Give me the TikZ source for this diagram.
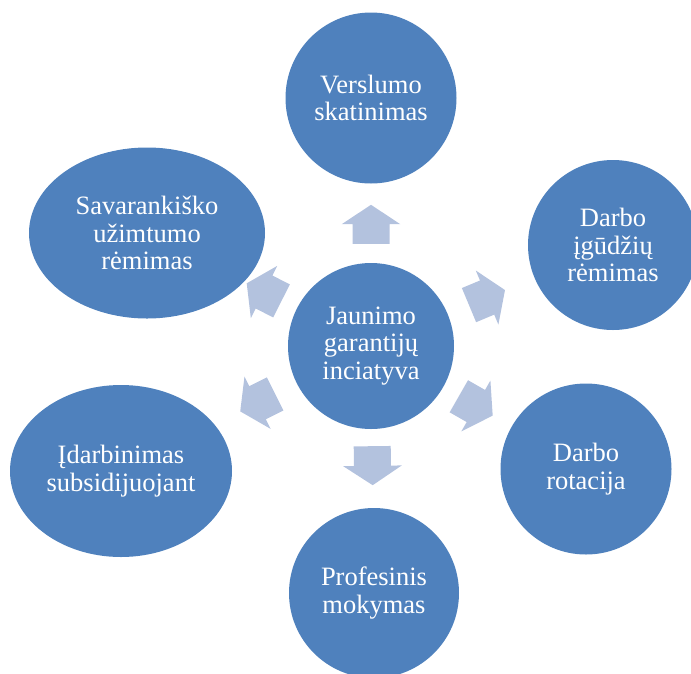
\documentclass[tikz,border=0pt]{standalone}
\usepackage{fontspec}
\setmainfont{Liberation Serif}
\definecolor{nodeblue}{RGB}{79,129,189}
\definecolor{arrowblue}{RGB}{179,194,222}
\usetikzlibrary{shapes.geometric, shapes.arrows, calc}

\begin{document}
\begin{tikzpicture}[x=1pt, y=-1pt,
  bubble/.style={circle, fill=nodeblue, text=white, align=center,
    inner sep=0pt, minimum size=171pt,
    font=\fontsize{26.5}{27.5}\selectfont},
  oval/.style={bubble, ellipse},
  pusharrow/.style={single arrow, fill=arrowblue,
    inner xsep=0pt, inner ysep=18.3pt,
    minimum height=39pt, minimum width=58pt,
    single arrow head extend=10.8pt, single arrow tip angle=113,
    sloped, allow upside down, pos=0, anchor=tail}]
  \useasboundingbox (0,0) rectangle (691,673);
  % centre
  \node[bubble, minimum size=166pt] (jgi) at (371,346)
    {Jaunimo\\garantijų\\inciatyva};
  % measures round it
  \node[bubble] (versl) at (371,98) {Verslumo\\skatinimas};
  \node[bubble, minimum size=170pt] (igud) at (613,245)
    {Darbo\\įgūdžių\\rėmimas};
  \node[bubble] (rotac) at (586,469) {Darbo\\rotacija};
  \node[bubble, minimum size=170pt] (profm) at (374,593)
    {Profesinis\\mokymas};
  \node[oval, minimum width=222pt, minimum height=172pt] (subsid)
    at (121,471) {Įdarbinimas\\subsidijuojant};
  \node[oval, minimum width=236pt, minimum height=171pt] (savar)
    at (147,233) {Savarankiško\\užimtumo\\rėmimas};
  % arrows, tail some way out from the centre
  \foreach \out/\gap in {versl/102, igud/106, rotac/101, profm/100,
                         subsid/107, savar/100}
    \path ($(jgi.center)!\gap pt!(\out.center)$) -- node[pusharrow] {}
      (\out.center);
\end{tikzpicture}
\end{document}
